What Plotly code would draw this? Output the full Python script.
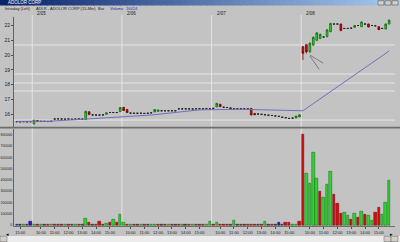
import plotly.graph_objects as go

W, H = 400, 242

# ---------------- data ----------------
days = ["2/02", "2/05", "2/06", "2/07", "2/08"]
pre_bars = 5            # last 15-min bars of 2/02 visible
bars_per_day = 26       # 9:30 .. 15:45
hour_labels = ["10:00", "11:00", "12:00", "13:00", "14:00", "15:00"]
pre_hour_label = "15:00"

opens = [15.48, 15.47, 15.48, 15.47, 15.48,
         # 2/05
         15.32, 15.56, 15.50, 15.50, 15.49, 15.50, 15.66, 15.67, 15.66, 15.65, 15.66, 15.64, 15.65,
         15.66, 15.65, 15.62, 16.15, 15.94, 15.93, 15.93, 15.94, 15.98, 16.10, 16.10, 16.10, 16.16,
         # 2/06
         16.45, 16.30, 16.06, 16.05, 16.05, 16.05, 16.04, 16.05, 16.08, 16.14, 16.18, 16.22, 16.22,
         16.22, 16.22, 16.22, 16.35, 16.35, 16.35, 16.35, 16.34, 16.35, 16.35, 16.35, 16.36, 16.35,
         # 2/07
         16.38, 16.48, 16.66, 16.46, 16.44, 16.42, 16.35, 16.35, 16.35, 16.35, 16.35, 16.38, 16.04,
         16.00, 15.98, 15.95, 15.92, 15.90, 15.87, 15.84, 15.78, 15.75, 15.70, 15.72, 15.73, 15.80,
         # 2/08
         20.56, 20.70, 20.22, 20.68, 21.00, 21.12, 21.22, 21.25, 21.58, 22.10, 22.10, 22.10, 21.80,
         21.80, 21.82, 21.88, 22.00, 21.92, 22.10, 22.10, 22.00, 21.98, 21.92, 21.80, 21.76, 22.10]

closes = [15.48, 15.47, 15.48, 15.47, 15.48,
          15.58, 15.50, 15.50, 15.50, 15.49, 15.50, 15.66, 15.67, 15.66, 15.65, 15.66, 15.64, 15.65,
          15.66, 15.65, 16.18, 15.96, 15.94, 15.93, 15.93, 15.94, 16.08, 16.10, 16.10, 16.10, 16.44,
          16.24, 16.10, 16.06, 16.05, 16.05, 16.05, 16.04, 16.05, 16.08, 16.30, 16.27, 16.22, 16.22,
          16.22, 16.22, 16.22, 16.35, 16.35, 16.35, 16.35, 16.34, 16.35, 16.35, 16.35, 16.36, 16.35,
          16.38, 16.72, 16.50, 16.46, 16.44, 16.36, 16.35, 16.35, 16.35, 16.35, 16.35, 15.94, 15.95,
          16.00, 15.98, 15.95, 15.92, 15.90, 15.87, 15.84, 15.78, 15.75, 15.70, 15.72, 15.86, 15.95,
          20.12, 20.22, 20.80, 21.20, 21.50, 21.40, 21.22, 21.70, 22.14, 22.10, 22.10, 21.66, 21.80,
          21.80, 21.82, 22.00, 22.00, 22.24, 22.10, 21.90, 22.00, 21.98, 21.72, 21.80, 22.10, 22.36]

highs = [15.48, 15.47, 15.48, 15.47, 15.48,
         15.60, 15.57, 15.50, 15.50, 15.49, 15.50, 15.66, 15.67, 15.66, 15.65, 15.66, 15.64, 15.65,
         15.66, 15.65, 16.22, 16.17, 15.94, 15.93, 15.93, 15.94, 16.09, 16.10, 16.10, 16.10, 16.46,
         16.46, 16.31, 16.06, 16.05, 16.05, 16.05, 16.04, 16.05, 16.08, 16.31, 16.28, 16.22, 16.22,
         16.22, 16.22, 16.22, 16.35, 16.35, 16.35, 16.35, 16.34, 16.35, 16.35, 16.35, 16.36, 16.35,
         16.38, 16.75, 16.68, 16.46, 16.44, 16.43, 16.35, 16.35, 16.35, 16.35, 16.35, 16.40, 16.05,
         16.00, 15.98, 15.95, 15.92, 15.90, 15.87, 15.84, 15.78, 15.75, 15.70, 15.72, 15.87, 15.96,
         20.60, 20.72, 20.85, 21.25, 21.55, 21.45, 21.22, 21.75, 22.18, 22.10, 22.10, 22.12, 21.80,
         21.80, 21.82, 22.02, 22.00, 22.28, 22.10, 22.12, 22.00, 21.98, 21.94, 21.80, 22.12, 22.40]

lows = [15.48, 15.47, 15.48, 15.47, 15.48,
        15.30, 15.50, 15.50, 15.50, 15.49, 15.50, 15.66, 15.67, 15.66, 15.65, 15.66, 15.64, 15.65,
        15.66, 15.65, 15.60, 15.95, 15.94, 15.93, 15.93, 15.94, 15.97, 16.10, 16.10, 16.10, 16.15,
        16.22, 16.08, 16.06, 16.05, 16.05, 16.05, 16.04, 16.05, 16.08, 16.13, 16.17, 16.22, 16.22,
        16.22, 16.22, 16.22, 16.35, 16.35, 16.35, 16.35, 16.34, 16.35, 16.35, 16.35, 16.36, 16.35,
        16.38, 16.47, 16.49, 16.46, 16.44, 16.35, 16.35, 16.35, 16.35, 16.35, 16.35, 15.92, 15.93,
        16.00, 15.98, 15.95, 15.92, 15.90, 15.87, 15.84, 15.78, 15.75, 15.70, 15.72, 15.72, 15.79,
        19.66, 20.10, 20.15, 20.62, 20.95, 21.08, 21.22, 21.20, 21.55, 22.10, 22.10, 21.62, 21.80,
        21.80, 21.82, 21.86, 22.00, 21.90, 22.10, 21.88, 22.00, 21.98, 21.70, 21.80, 21.74, 22.08]

volumes = [3000, 6000, 5000, 3000, 35000,
           # 2/05
           8000, 5000, 4000, 3000, 5000, 3000, 6000, 4000, 3000, 5000, 4000, 3000, 4000,
           5000, 3000, 60000, 25000, 6000, 5000, 30000, 6000, 15000, 20000, 45000, 20000, 90000,
           # 2/06
           20000, 6000, 8000, 4000, 3000, 5000, 4000, 3000, 6000, 8000, 8000, 4000, 3000,
           5000, 4000, 3000, 6000, 4000, 3000, 5000, 4000, 3000, 5000, 6000, 4000, 35000,
           # 2/07
           4000, 20000, 8000, 6000, 8000, 5000, 40000, 4000, 3000, 3000, 4000, 6000, 4000,
           3000, 4000, 30000, 6000, 3000, 4000, 20000, 5000, 18000, 18000, 8000, 8000, 30000,
           # 2/08
           806000, 459000, 370000, 646000, 415000, 296000, 243000, 362000, 480000, 273000, 187000, 98000, 113000,
           83000, 50000, 104000, 68000, 124000, 89000, 83000, 44000, 110000, 154000, 95000, 201000, 400000]

vol_colors = list("kbgrb"
                  "grgkrgrkrgrkgrk" "grkrrkgrgrg"
                  "grgrkgrkggrkr" "grkrgkrgrkrgg"
                  "rgrrrkgkrkrrr" "krgkrkbkrrggr"
                  "rgggg" "rgggrrrgg" "rgrgrggrrggg")

# moving-average line, knots (bar index, price)
ma_idx = [0, 10, 19, 31, 39, 53, 65, 83, 108]
ma_val = [15.50, 15.52, 15.64, 15.82, 15.93, 16.28, 16.32, 16.22, 20.27]

# horizontal reference lines drawn on the price pane
ref_levels = [20.68, 18.71, 18.10, 17.56, 15.59]

# hand-drawn pointer lines near the 2/08 open (bar index, price)
pointer_x0 = [85.0, 85.0]
pointer_y0 = [20.00, 19.93]
pointer_x1 = [88.9, 87.7]
pointer_y1 = [19.44, 19.03]

price_ticks = [16, 17, 18, 19, 20, 21, 22]
vol_ticks = [0, 100000, 200000, 300000, 400000, 500000, 600000, 700000, 800000]

title_text = "ADOLOR CORP"
info_left = "Intraday (Left)"
info_sym = "ADLR - ADOLOR CORP (15-Min)"
info_bar = "Bar"
info_vol = "Volume"
info_vol_val = "16424"

# ---------------- derived positions ----------------
n = len(closes)
xs = list(range(n))
day_starts = [pre_bars + d * bars_per_day for d in range(len(days) - 1)]
boundaries = [s - 0.5 for s in day_starts]

tick_vals = [1]
tick_text = [pre_hour_label]
for s in day_starts:
    for j, lab in enumerate(hour_labels):
        tick_vals.append(s + 2 + 4 * j)
        tick_text.append(lab)

def px_x(p):
    return p / W

def px_y(p):
    return 1 - p / H

BG = "#c3c3c3"
FONT = "Liberation Sans"
TXT = "#202020"

fig = go.Figure()

up = [i for i in xs if closes[i] > opens[i] + 1e-9]
dn = [i for i in xs if closes[i] < opens[i] - 1e-9]
fl = [i for i in xs if abs(closes[i] - opens[i]) <= 1e-9]

def candle(idx, inc_line, inc_fill, dec_line, dec_fill, lw):
    return go.Candlestick(
        x=[xs[i] for i in idx], open=[opens[i] for i in idx], high=[highs[i] for i in idx],
        low=[lows[i] for i in idx], close=[closes[i] for i in idx],
        increasing=dict(line=dict(color=inc_line, width=lw), fillcolor=inc_fill),
        decreasing=dict(line=dict(color=dec_line, width=lw), fillcolor=dec_fill),
        whiskerwidth=0, xaxis="x", yaxis="y", showlegend=False, hoverinfo="skip")

fig.add_trace(go.Scatter(x=ma_idx, y=ma_val, mode="lines", line=dict(color="#7070c0", width=1),
                         xaxis="x", yaxis="y", showlegend=False, hoverinfo="skip"))
fig.add_trace(candle(fl, "#262626", "#262626", "#262626", "#262626", 1))
fig.add_trace(candle(up, "#0b6a0b", "#35d835", "#0b6a0b", "#35d835", 0.8))
fig.add_trace(candle(dn, "#700000", "#d81010", "#700000", "#d81010", 0.8))

cmap_fill = {"g": "#35d035", "r": "#d01010", "b": "#2020c8", "k": "#404040"}
cmap_line = {"g": "#0b6a0b", "r": "#700000", "b": "#000060", "k": "#202020"}
fig.add_trace(go.Bar(x=xs, y=volumes, width=0.72,
                     marker=dict(color=[cmap_fill[c] for c in vol_colors],
                                 line=dict(color=[cmap_line[c] for c in vol_colors], width=0.5)),
                     xaxis="x2", yaxis="y2", showlegend=False, hoverinfo="skip"))

dom_x = [px_x(14), px_x(395)]
xr = [-0.8, 109.7]
price_dom = [px_y(127), px_y(17)]
vol_dom = [px_y(226), px_y(128.5)]
price_rng = [16 - 13 / 14.75, 16 + 97 / 14.75]
vol_rng = [-8889, (225 - 128.5) * 8889]

tickfont = dict(family=FONT, size=5, color=TXT)
small_tickfont = dict(family=FONT, size=4, color=TXT)
vol_tickfont = dict(family=FONT, size=3.5, color=TXT)

fig.update_layout(
    width=W, height=H, margin=dict(l=0, r=0, t=0, b=0),
    paper_bgcolor=BG, plot_bgcolor=BG, template="none", showlegend=False,
    xaxis=dict(domain=dom_x, range=xr, anchor="y", showgrid=False, zeroline=False,
               showticklabels=False, ticks="", showline=False,
               rangeslider=dict(visible=False), automargin=False),
    yaxis=dict(domain=price_dom, range=price_rng, anchor="x", showgrid=False, zeroline=False,
               tickvals=price_ticks, ticktext=[str(v) for v in price_ticks], tickfont=tickfont,
               ticks="outside", ticklen=2, tickcolor="#505050", showline=True,
               linecolor="#606060", linewidth=1, automargin=False),
    xaxis2=dict(domain=dom_x, range=xr, anchor="y2", showgrid=False, zeroline=False,
                tickvals=tick_vals, ticktext=tick_text, tickfont=small_tickfont, tickangle=0,
                ticks="outside", ticklen=2, tickcolor="#505050", showline=True,
                linecolor="#707070", linewidth=1, automargin=False),
    yaxis2=dict(domain=vol_dom, range=vol_rng, anchor="x2", showgrid=False, zeroline=False,
                tickvals=vol_ticks, ticktext=[str(v) for v in vol_ticks], tickfont=vol_tickfont,
                ticks="", showline=True,
                linecolor="#606060", linewidth=1, automargin=False, ticklabelstandoff=0),
    bargap=0,
)

shapes = []
# reference levels
for lv in ref_levels:
    shapes.append(dict(type="line", xref="paper", yref="y", x0=dom_x[0], x1=dom_x[1], y0=lv, y1=lv,
                       line=dict(color="#e6e6e6", width=1), layer="below"))
# day separators
for b in boundaries:
    shapes.append(dict(type="line", xref="x", yref="paper", x0=b, x1=b, y0=vol_dom[0], y1=px_y(15),
                       line=dict(color="#e4e4e4", width=1), layer="below"))
# pointer lines
for a, b_, c, d in zip(pointer_x0, pointer_y0, pointer_x1, pointer_y1):
    shapes.append(dict(type="line", xref="x", yref="y", x0=a, y0=b_, x1=c, y1=d,
                       line=dict(color="#6a6a6a", width=0.8)))
# pane separator
shapes.append(dict(type="line", xref="paper", yref="paper", x0=0, x1=1, y0=px_y(127.6), y1=px_y(127.6),
                   line=dict(color="#6e6e6e", width=1.6)))
# title bar gradient
steps = 60
c0 = (10, 36, 106)
c1 = (166, 202, 240)
for k in range(steps):
    t = k / (steps - 1)
    col = "rgb(%d,%d,%d)" % tuple(int(c0[j] + (c1[j] - c0[j]) * t) for j in range(3))
    shapes.append(dict(type="rect", xref="paper", yref="paper", x0=k / steps, x1=(k + 1) / steps + 0.002,
                       y0=px_y(5.5), y1=1, line=dict(width=0), fillcolor=col))
# window buttons
for bx in [378, 385, 392]:
    shapes.append(dict(type="rect", xref="paper", yref="paper", x0=px_x(bx), x1=px_x(bx + 6),
                       y0=px_y(5), y1=px_y(0.7), line=dict(color="#404040", width=0.5), fillcolor="#d4d0c8"))
# scrollbar
shapes.append(dict(type="rect", xref="paper", yref="paper", x0=0, x1=1, y0=0, y1=px_y(236),
                   line=dict(width=0), fillcolor="#ececec"))
for bx0, bx1 in [(0, 7), (384, 391), (391, 398)]:
    shapes.append(dict(type="rect", xref="paper", yref="paper", x0=px_x(bx0), x1=px_x(bx1),
                       y0=px_y(241.5), y1=px_y(236.3), line=dict(color="#606060", width=0.5),
                       fillcolor="#d4d0c8"))
fig.update_layout(shapes=shapes)

ann = []
ann.append(dict(text=title_text, x=px_x(6), y=px_y(2.8), xref="paper", yref="paper", xanchor="left",
                yanchor="middle", showarrow=False, font=dict(family=FONT, size=4.5, color="white")))
for txt, xp, col in [(info_left, 3, TXT), (info_sym, 34, TXT), (info_bar, 96, TXT),
                     (info_vol, 108, "#2a2ab0"), (info_vol_val, 124, "#2a2ab0")]:
    ann.append(dict(text=txt, x=px_x(xp), y=px_y(8.2), xref="paper", yref="paper", xanchor="left",
                    yanchor="middle", showarrow=False, font=dict(family=FONT, size=4, color=col)))
for d, b in zip(days[1:], boundaries):
    ann.append(dict(text=d, x=b, y=px_y(13.5), xref="x", yref="paper", xanchor="left", xshift=3,
                    yanchor="middle", showarrow=False, font=dict(family=FONT, size=4.5, color=TXT)))
ann.append(dict(text="\u25c2", x=px_x(3.5), y=px_y(239), xref="paper", yref="paper", showarrow=False,
                font=dict(family="DejaVu Sans", size=5, color="#000000")))
ann.append(dict(text="\u25b8", x=px_x(394.5), y=px_y(239), xref="paper", yref="paper", showarrow=False,
                font=dict(family="DejaVu Sans", size=5, color="#000000")))
fig.update_layout(annotations=ann)

fig.write_html("out.html")
